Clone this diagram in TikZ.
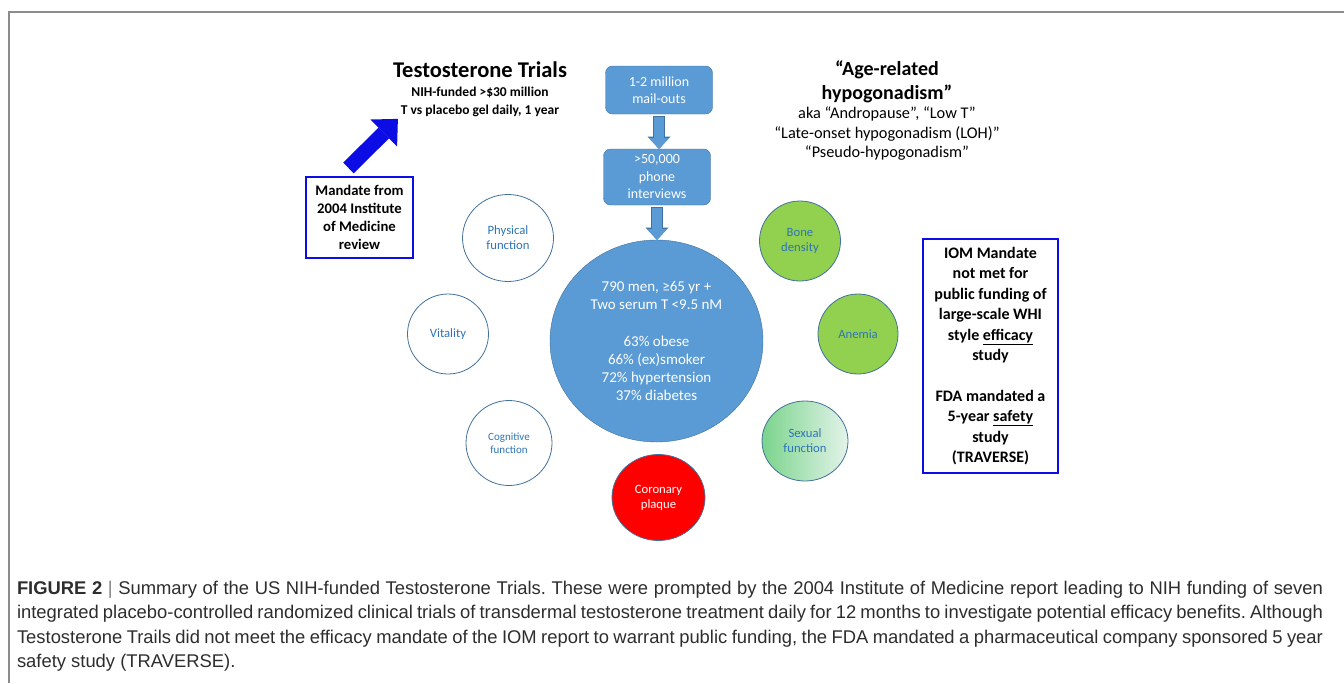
\documentclass[tikz,border=0pt]{standalone}
\usepackage{fontspec}
\setmainfont{Carlito}
\newfontfamily\capfont{Liberation Sans}
\usetikzlibrary{shapes.geometric,arrows.meta}

\definecolor{pptblue}{RGB}{91,155,213}
\definecolor{pptline}{RGB}{65,113,156}
\definecolor{pptlabel}{RGB}{46,117,182}
\definecolor{pptgreen}{RGB}{146,208,80}
\definecolor{mandateblue}{RGB}{12,12,228}
\definecolor{framegray}{RGB}{140,140,140}
\definecolor{captiongray}{RGB}{45,45,45}

\begin{document}
\begin{tikzpicture}[x=1pt,y=-1pt,
	every node/.style={inner sep=0pt,outer sep=0pt,align=center},
	flowbox/.style={draw=pptline,fill=pptblue,rounded corners=7pt,text=white,minimum width=107pt,font=\fontsize{14}{17.5}\selectfont},
	outcome/.style={ellipse,draw=pptline,line width=0.8pt,fill=white,text=pptlabel,font=\fontsize{12.7}{15}\selectfont},
	mandatebox/.style={draw=mandateblue,line width=2.5pt,fill=white,font=\bfseries\fontsize{14.7}{18}\selectfont},
	flowedge/.style={draw=pptline,line width=12.5pt,shorten <=2pt,-{Triangle[width=23pt,length=12.5pt,line width=0pt]}},
	flowfill/.style={draw=pptblue,line width=10.5pt,shorten <=2.5pt,-{Triangle[width=20pt,length=11pt,line width=0pt]}},
	bigarrow/.style={draw=mandateblue,line width=15pt,-{Triangle[width=38pt,length=20pt,line width=0pt]}}]
	\useasboundingbox (0,0) rectangle (1344,683);
	\draw[framegray,line width=1.5pt] (1344,12) -- (9,12) -- (9,683);

	\node[font=\bfseries\fontsize{22.5}{24}\selectfont] (trials) at (480,70) {Testosterone Trials};
	\node[font=\bfseries\fontsize{13.5}{18}\selectfont] (funding) at (480,102) {NIH-funded >\$30 million\\T vs placebo gel daily, 1 year};
	\node[mandatebox,minimum width=107pt,minimum height=81pt] (mandate) at (359.5,217.5) {Mandate from\\2004 Institute\\of Medicine\\review};
	\draw[bigarrow] ([shift={(-11,-9)}]mandate.north) -- ([shift={(-3,2)}]funding.south west);

	\node[font=\bfseries\fontsize{20}{24}\selectfont] (agerelated) at (887,82) {“Age-related\\hypogonadism”};
	\node[font=\fontsize{16.3}{19.5}\selectfont] (aka) at (887,134) {aka “Andropause”, “Low T”\\“Late-onset hypogonadism (LOH)”\\“Pseudo-hypogonadism”};

	\node[flowbox,minimum height=48pt] (mail) at (659,90) {1-2 million\\mail-outs};
	\node[flowbox,minimum height=56pt] (phone) at (657,177) {>50,000\\phone\\interviews};
	\node[ellipse,draw=pptline,fill=pptblue,minimum width=213pt,minimum height=202pt,text=white,font=\fontsize{15}{18.3}\selectfont] (cohort) at (656.5,341) {790 men, ≥65 yr +\\Two serum T <9.5 nM\\[18.3pt]63\% obese\\66\% (ex)smoker\\72\% hypertension\\37\% diabetes};
	\foreach \a/\b in {mail/phone,phone/cohort}{
		\draw[flowedge] (\a.south) -- (\a.south |- \b.north);
		\draw[flowfill] (\a.south) -- (\a.south |- \b.north);
	}

	\node[outcome,minimum width=91pt,minimum height=87pt] (physical) at (508,238) {Physical\\function};
	\node[outcome,minimum width=81pt,minimum height=80pt] (vitality) at (448,334) {Vitality};
	\node[outcome,minimum width=86pt,minimum height=85pt,font=\fontsize{11}{13.5}\selectfont] (cognitive) at (509,443) {Cognitive\\function};
	\node[outcome,fill=red,text=white,minimum width=93pt,minimum height=86pt] (coronary) at (658.5,497.5) {Coronary\\plaque};
	\node[outcome,fill=pptgreen,minimum width=81pt,minimum height=80pt] (bone) at (800,241) {Bone\\density};
	\node[outcome,fill=pptgreen,minimum width=80pt,minimum height=80pt] (anemia) at (858,334) {Anemia};
	\node[outcome,left color={rgb,255:red,122;green,212;blue,140},right color={rgb,255:red,228;green,243;blue,234},minimum width=86pt,minimum height=80pt] (sexual) at (805,441) {Sexual\\function};

	\node[mandatebox,minimum width=135pt,minimum height=234pt,font=\bfseries\fontsize{16}{20.4}\selectfont] (iom) at (990.5,356) {IOM Mandate\\not met for\\public funding of\\large-scale WHI\\style \underline{efficacy}\\study\\[20.4pt]FDA mandated a\\5-year \underline{safety}\\study\\(TRAVERSE)};

	\node[anchor=north west,text width=1306pt,align=justify,font=\capfont\fontsize{18.4}{24.5}\selectfont\frenchspacing,text=captiongray] (caption) at (17,581) {\textbf{FIGURE 2} {\color{gray}|} Summary of the US NIH-funded Testosterone Trials. These were prompted by the 2004 Institute of Medicine report leading to NIH funding of seven\linebreak integrated placebo-controlled randomized clinical trials of transdermal testosterone treatment daily for 12 months to investigate potential efficacy benefits. Although\linebreak Testosterone Trails did not meet the efficacy mandate of the IOM report to warrant public funding, the FDA mandated a pharmaceutical company sponsored 5 year\linebreak safety study (TRAVERSE).};
\end{tikzpicture}
\end{document}
